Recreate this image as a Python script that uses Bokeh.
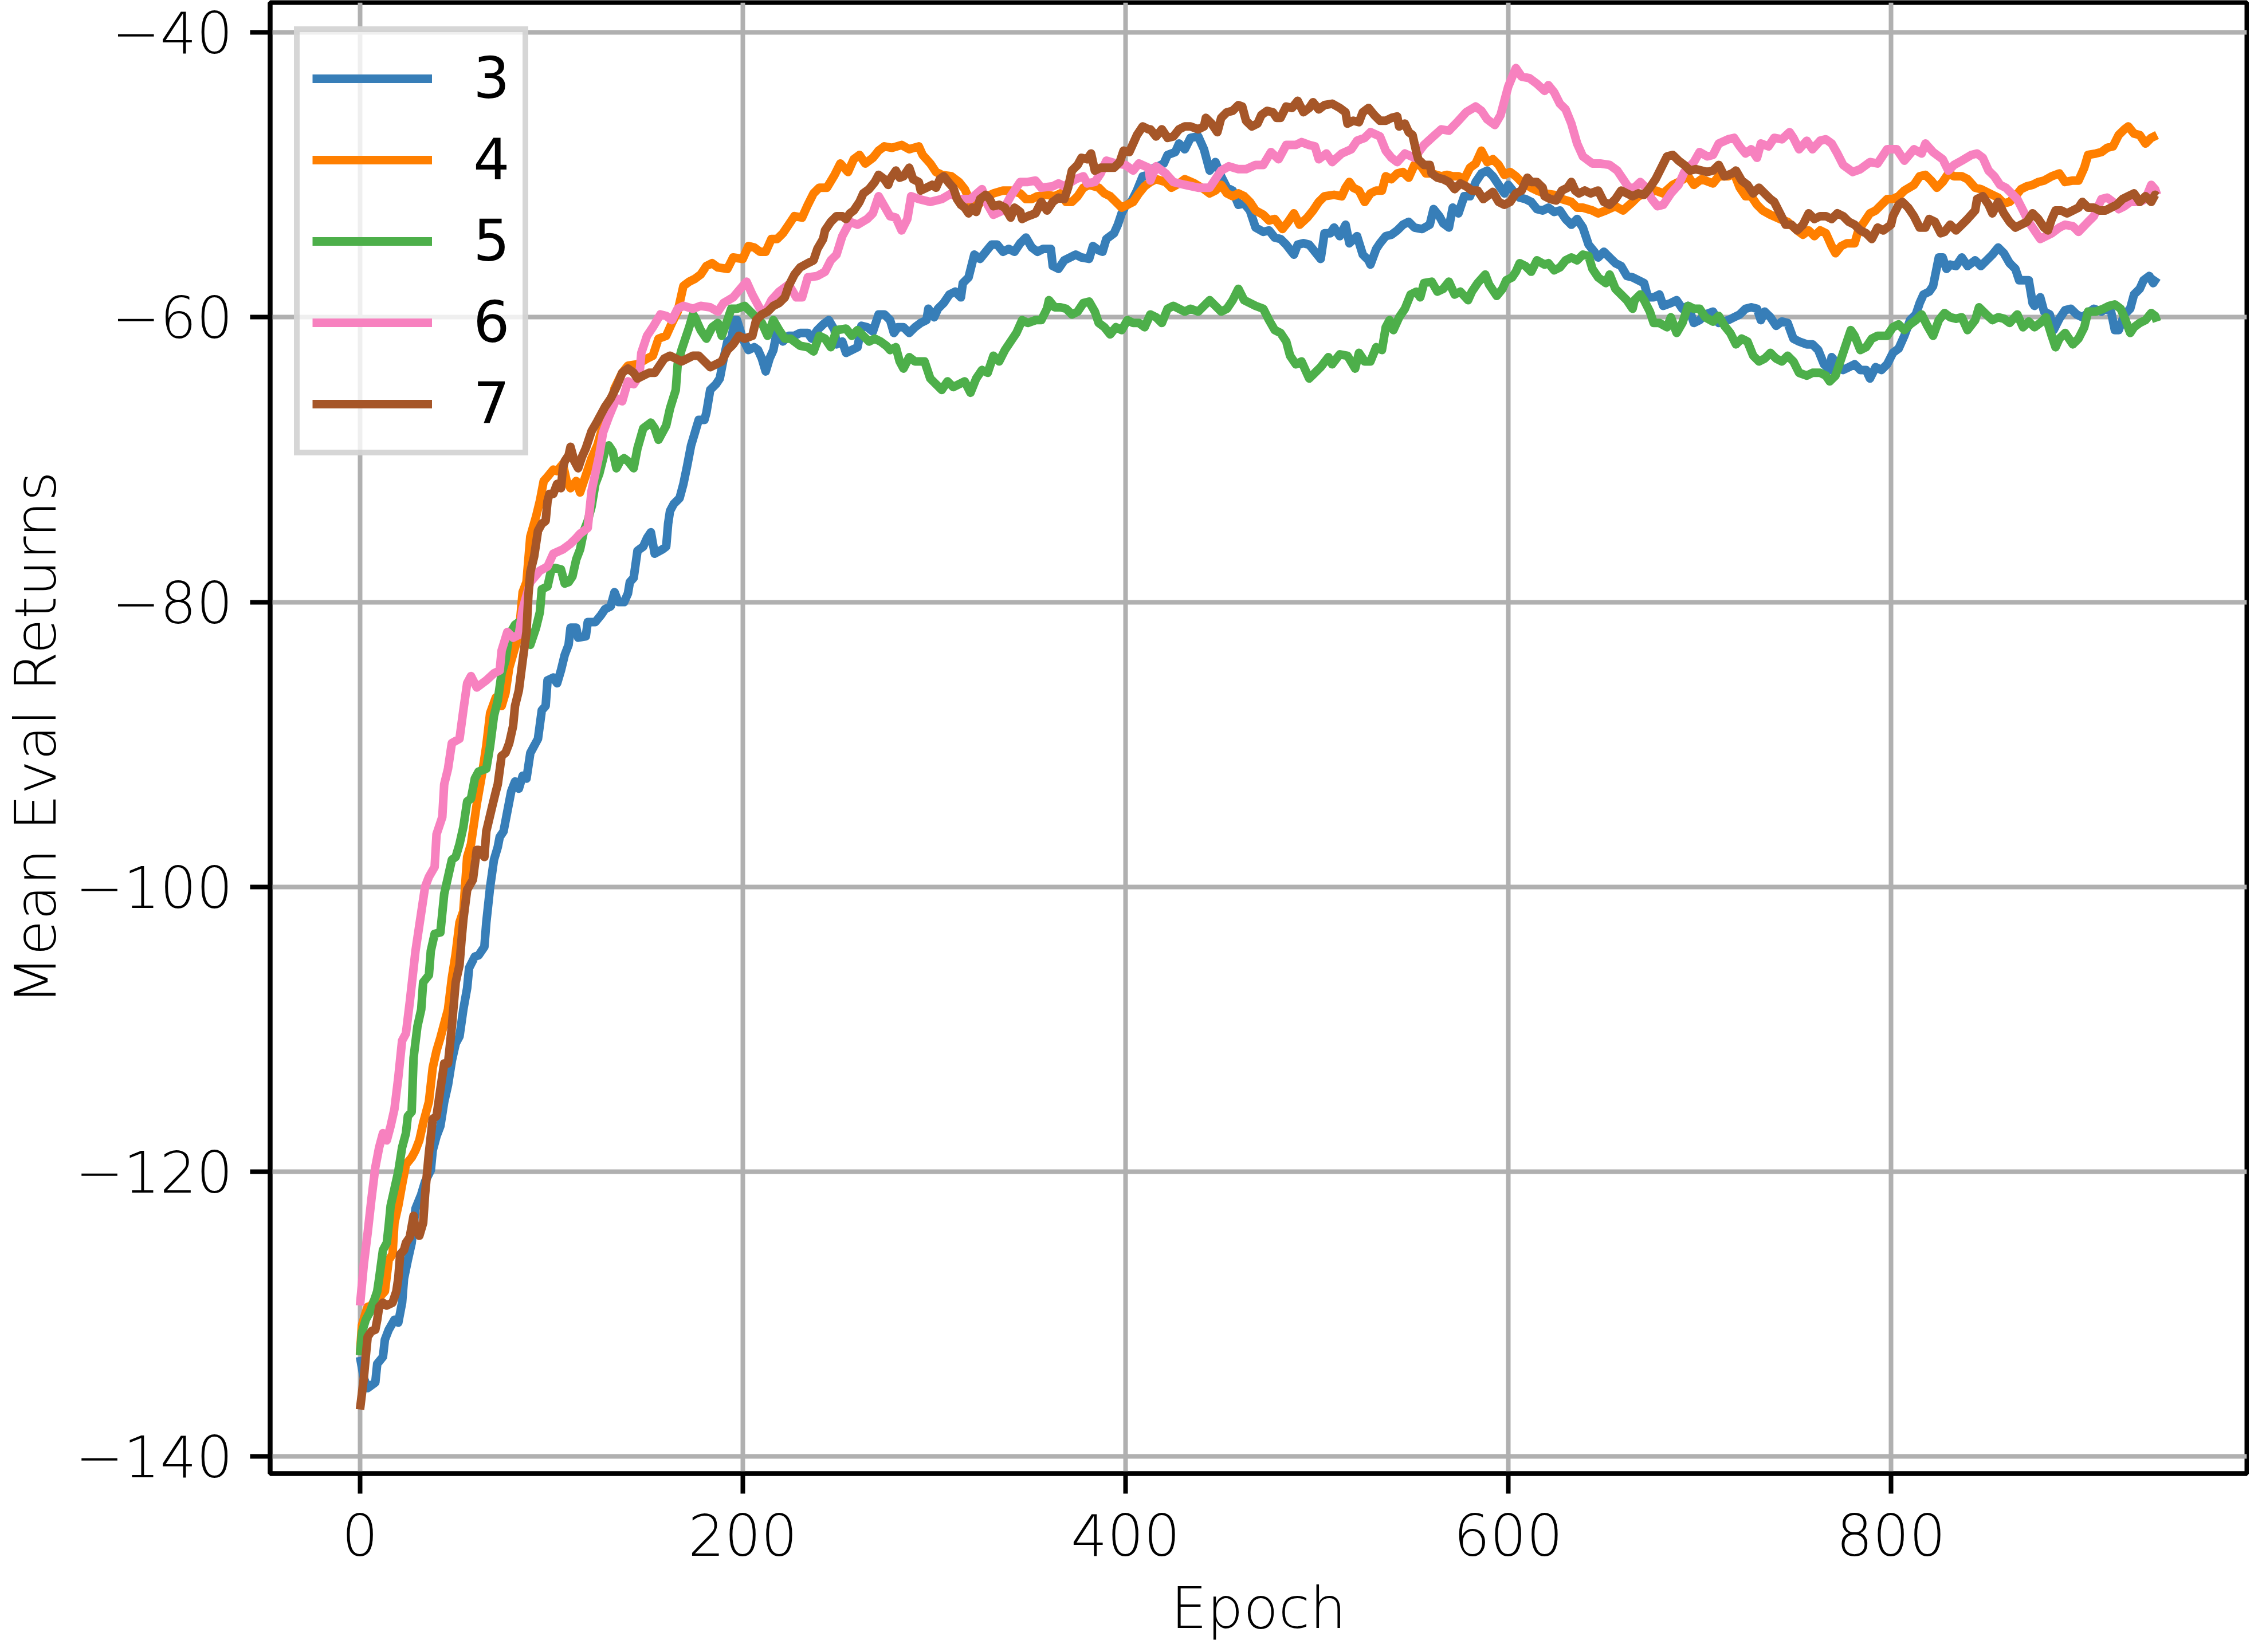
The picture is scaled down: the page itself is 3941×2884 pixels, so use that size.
from bokeh.plotting import figure
from bokeh.models import Range1d, FixedTicker
from bokeh.embed import file_html
from bokeh.resources import INLINE

# ---------------- data ----------------
series_names = ["3", "4", "5", "6", "7"]
series_colors = ["#377eb8", "#ff7f00", "#4daf4a", "#f781bf", "#a65628"]

x_ticks = [0, 200, 400, 600, 800]
y_ticks = [-140, -120, -100, -80, -60, -40]
y_tick_labels = ["\u2212140", "\u2212120", "\u2212100", "\u221280", "\u221260", "\u221240"]

epochs_3 = [0, 2, 4, 8, 9, 12, 13, 15, 18, 20, 22, 23, 25, 27, 29, 32, 34, 37, 38, 40, 42, 44, 46, 48, 50, 52, 54, 56, 57, 60, 62, 65, 66, 68, 70, 72, 73, 75, 77, 79, 81, 83, 85, 87, 89, 91, 93, 95, 97, 98, 101, 103, 105, 107, 109, 110, 113, 114, 118, 119, 123, 126, 128, 131, 133, 135, 138, 140, 141, 143, 145, 148, 150, 152, 154, 158, 160, 161, 162, 164, 167, 169, 171, 173, 175, 177, 180, 181, 183, 186, 188, 190, 192, 194, 196, 197, 200, 203, 206, 208, 210, 212, 214, 216, 218, 221, 224, 227, 230, 234, 236, 239, 242, 245, 248, 249, 252, 254, 257, 260, 262, 265, 268, 271, 274, 277, 279, 281, 284, 287, 290, 293, 296, 297, 300, 302, 305, 308, 311, 314, 315, 318, 321, 324, 327, 330, 333, 336, 339, 342, 345, 348, 351, 354, 357, 361, 362, 365, 368, 371, 374, 377, 381, 383, 386, 388, 390, 394, 396, 398, 400, 403, 406, 409, 412, 415, 417, 420, 422, 426, 428, 431, 434, 438, 441, 444, 447, 450, 453, 456, 459, 462, 465, 468, 472, 475, 478, 481, 484, 488, 490, 493, 496, 499, 502, 504, 507, 509, 512, 515, 517, 521, 524, 527, 528, 531, 533, 536, 539, 542, 545, 548, 551, 555, 559, 561, 564, 566, 569, 571, 574, 577, 580, 583, 586, 589, 592, 595, 598, 600, 603, 606, 609, 612, 615, 618, 621, 624, 627, 630, 633, 636, 639, 642, 645, 647, 650, 653, 656, 659, 662, 665, 668, 671, 673, 676, 679, 681, 685, 688, 691, 694, 697, 700, 703, 707, 710, 715, 718, 721, 724, 727, 730, 732, 734, 737, 740, 743, 746, 749, 752, 756, 759, 762, 765, 768, 769, 772, 775, 778, 781, 784, 787, 789, 792, 795, 798, 801, 804, 807, 810, 813, 815, 817, 820, 822, 825, 827, 829, 831, 834, 837, 840, 844, 847, 850, 853, 856, 859, 862, 865, 867, 870, 872, 874, 875, 878, 880, 883, 885, 888, 891, 894, 897, 900, 903, 906, 910, 912, 915, 917, 919, 922, 925, 927, 930, 932, 935, 937, 939]
returns_3 = [-133.0, -134.5, -135.2, -134.8, -133.5, -133.0, -131.8, -131.1, -130.4, -130.6, -129.2, -127.5, -126.2, -125.0, -122.6, -121.6, -120.7, -119.9, -118.5, -117.5, -116.8, -115.1, -113.9, -112.2, -111.0, -110.5, -108.6, -107.1, -105.7, -104.9, -104.8, -104.2, -102.5, -100.0, -98.1, -97.2, -96.5, -96.1, -94.7, -93.3, -92.6, -93.1, -92.2, -92.4, -90.6, -90.1, -89.6, -87.6, -87.3, -85.5, -85.3, -85.7, -84.8, -83.7, -83.0, -81.8, -81.8, -82.5, -82.4, -81.4, -81.4, -80.9, -80.5, -80.3, -79.3, -80.0, -80.0, -79.4, -78.6, -78.3, -76.4, -76.1, -75.5, -75.1, -76.6, -76.3, -76.1, -74.5, -73.6, -73.1, -72.7, -71.7, -70.4, -69.0, -68.1, -67.2, -67.2, -66.7, -65.1, -64.7, -64.3, -62.9, -61.7, -61.5, -60.2, -60.2, -61.5, -62.3, -62.1, -62.3, -62.9, -63.8, -62.9, -62.3, -60.9, -61.7, -61.3, -61.3, -61.1, -61.1, -61.5, -60.9, -60.5, -60.2, -60.9, -61.9, -61.7, -62.5, -62.3, -62.1, -60.6, -60.7, -61.0, -59.8, -59.8, -60.2, -61.1, -60.7, -60.7, -61.1, -60.7, -60.4, -60.2, -59.4, -60.0, -59.4, -59.0, -58.4, -58.2, -58.6, -57.6, -57.2, -55.6, -55.9, -55.4, -54.9, -54.9, -55.4, -55.2, -55.4, -54.8, -54.4, -55.1, -55.4, -55.2, -55.2, -56.4, -56.6, -56.0, -55.8, -55.6, -55.8, -55.9, -55.0, -55.3, -55.4, -54.5, -54.1, -53.5, -52.7, -52.2, -51.9, -51.1, -50.1, -50.0, -49.5, -49.4, -49.2, -48.6, -48.4, -47.8, -48.2, -47.4, -47.3, -48.2, -49.7, -49.1, -50.1, -50.9, -51.1, -52.1, -52.0, -52.5, -53.7, -54.0, -53.9, -54.4, -54.5, -54.9, -55.6, -54.9, -54.8, -54.9, -55.4, -55.9, -54.1, -54.1, -53.7, -54.3, -53.5, -54.8, -54.3, -55.6, -56.0, -56.3, -55.2, -54.8, -54.3, -54.2, -53.9, -53.5, -53.3, -53.7, -53.8, -53.5, -52.4, -52.9, -53.4, -53.7, -52.3, -52.7, -51.5, -51.5, -50.5, -49.9, -49.7, -50.1, -50.7, -51.3, -50.7, -51.2, -51.6, -51.7, -51.9, -52.4, -52.5, -52.3, -52.6, -52.5, -53.1, -53.5, -53.1, -53.7, -54.9, -55.4, -55.8, -55.4, -55.8, -56.2, -56.4, -57.1, -57.2, -57.4, -57.6, -58.6, -58.6, -58.4, -59.2, -59.0, -58.8, -59.4, -59.2, -60.4, -60.2, -59.8, -59.6, -60.4, -60.2, -60.0, -59.8, -59.4, -59.3, -59.4, -60.2, -59.6, -60.0, -60.6, -60.3, -60.4, -61.5, -61.7, -61.9, -61.9, -62.3, -63.3, -63.7, -62.8, -63.3, -63.7, -63.5, -63.3, -63.7, -63.7, -64.3, -63.5, -63.7, -63.3, -62.5, -62.2, -61.3, -60.2, -59.8, -59.0, -58.4, -58.2, -57.8, -55.8, -55.8, -56.6, -56.3, -56.4, -55.8, -56.4, -56.0, -56.4, -56.0, -55.6, -55.1, -55.5, -56.2, -56.6, -57.4, -57.4, -57.4, -59.0, -59.2, -58.6, -59.6, -59.8, -60.9, -60.1, -59.5, -59.4, -59.8, -60.0, -59.7, -59.4, -59.6, -59.4, -59.6, -60.9, -60.9, -59.8, -59.4, -58.4, -58.0, -57.4, -57.1, -57.6, -57.2]

epochs_4 = [0, 1, 3, 4, 6, 8, 11, 13, 15, 17, 18, 20, 22, 24, 27, 29, 31, 33, 36, 38, 40, 42, 46, 48, 50, 52, 54, 56, 58, 61, 64, 66, 68, 71, 74, 76, 78, 81, 83, 85, 87, 89, 92, 94, 96, 98, 101, 103, 106, 108, 110, 113, 115, 118, 121, 124, 127, 130, 133, 137, 140, 145, 150, 153, 156, 160, 163, 166, 169, 172, 175, 178, 181, 184, 187, 192, 195, 200, 203, 206, 209, 212, 215, 218, 221, 224, 227, 231, 234, 237, 240, 244, 248, 251, 255, 258, 261, 264, 268, 271, 274, 278, 283, 287, 292, 294, 298, 301, 304, 309, 313, 316, 319, 322, 325, 328, 331, 336, 340, 345, 348, 351, 354, 359, 363, 366, 369, 372, 375, 378, 381, 386, 389, 392, 395, 398, 401, 404, 407, 410, 413, 416, 421, 424, 428, 431, 436, 441, 444, 447, 450, 453, 456, 459, 462, 465, 468, 472, 475, 478, 482, 485, 488, 491, 495, 498, 501, 504, 509, 513, 515, 517, 519, 522, 525, 528, 531, 534, 536, 539, 542, 545, 548, 551, 554, 557, 560, 565, 568, 571, 574, 577, 580, 583, 586, 589, 592, 595, 598, 601, 604, 607, 612, 615, 619, 624, 628, 633, 636, 639, 644, 647, 651, 656, 660, 665, 668, 672, 677, 681, 686, 689, 694, 697, 701, 707, 710, 715, 718, 721, 724, 727, 730, 733, 737, 742, 746, 751, 754, 757, 760, 763, 766, 769, 771, 774, 777, 781, 783, 786, 789, 792, 795, 798, 801, 804, 807, 812, 815, 818, 821, 824, 827, 830, 833, 837, 840, 844, 847, 850, 853, 856, 859, 862, 865, 868, 871, 874, 877, 880, 884, 888, 891, 895, 898, 901, 903, 907, 910, 913, 916, 919, 922, 924, 927, 930, 933, 936, 939]
returns_4 = [-132.8, -130.8, -129.9, -129.5, -129.4, -128.9, -128.7, -128.4, -126.2, -125.8, -123.6, -122.4, -120.9, -119.5, -119.0, -118.5, -117.8, -116.6, -115.1, -112.7, -111.5, -110.6, -108.6, -106.4, -104.7, -102.5, -101.7, -97.9, -97.0, -94.2, -91.9, -90.1, -87.8, -86.7, -87.3, -86.4, -84.6, -83.2, -82.3, -79.3, -78.6, -75.4, -74.0, -72.9, -71.5, -71.2, -70.7, -70.8, -70.3, -71.5, -72.0, -71.5, -72.3, -71.1, -69.9, -69.0, -67.6, -66.7, -65.0, -63.9, -63.4, -63.3, -62.9, -62.7, -61.5, -61.3, -60.4, -59.6, -57.8, -57.5, -57.3, -57.0, -56.4, -56.2, -56.5, -56.6, -55.8, -55.9, -55.0, -55.1, -55.4, -55.4, -54.5, -54.5, -54.1, -53.5, -52.9, -53.0, -52.1, -51.3, -50.9, -50.9, -50.0, -49.2, -49.8, -48.9, -48.6, -49.2, -48.8, -48.3, -48.0, -48.1, -47.9, -48.2, -48.0, -48.6, -49.2, -49.8, -50.0, -50.1, -50.5, -51.0, -51.9, -52.3, -51.8, -51.5, -51.3, -51.1, -51.1, -51.3, -51.7, -51.7, -51.5, -51.4, -51.5, -51.3, -51.9, -51.9, -51.5, -50.9, -50.7, -50.9, -51.3, -51.5, -51.9, -52.3, -52.1, -51.9, -51.3, -50.8, -50.5, -50.3, -50.5, -50.9, -50.6, -50.3, -50.6, -51.0, -51.3, -51.1, -50.7, -51.3, -51.5, -51.3, -51.5, -51.9, -52.5, -52.8, -53.2, -53.1, -53.8, -53.3, -52.7, -53.5, -53.0, -52.5, -51.9, -51.5, -51.4, -51.5, -50.9, -50.5, -50.9, -51.1, -51.9, -51.3, -51.1, -51.1, -50.1, -50.3, -49.9, -49.8, -50.2, -49.3, -49.3, -49.9, -49.9, -50.1, -50.0, -50.1, -50.1, -50.3, -49.5, -49.2, -48.3, -49.1, -48.9, -49.3, -50.0, -49.8, -50.1, -50.5, -50.9, -51.1, -51.3, -51.4, -51.7, -51.9, -52.3, -52.3, -52.5, -52.7, -52.5, -52.2, -52.5, -51.9, -51.5, -51.3, -51.1, -51.3, -50.7, -50.5, -50.1, -50.7, -50.3, -50.6, -50.1, -50.1, -49.9, -50.9, -51.5, -51.5, -52.1, -52.5, -52.8, -53.1, -53.3, -53.9, -54.2, -53.9, -54.3, -53.9, -54.1, -55.0, -55.5, -55.0, -54.8, -54.8, -53.9, -53.3, -52.7, -52.5, -52.1, -51.7, -51.7, -51.5, -51.1, -50.7, -50.1, -50.0, -50.4, -50.9, -50.5, -49.9, -50.1, -50.1, -50.3, -50.9, -51.0, -51.2, -51.4, -51.6, -52.0, -51.9, -51.5, -51.0, -50.8, -50.7, -50.5, -50.4, -50.1, -49.9, -50.5, -50.4, -50.4, -49.5, -48.6, -48.5, -48.4, -48.1, -48.0, -47.2, -46.8, -46.6, -47.1, -47.2, -47.8, -47.4, -47.2]

epochs_5 = [0, 1, 3, 5, 7, 9, 10, 12, 14, 15, 16, 18, 20, 22, 24, 25, 27, 28, 30, 32, 33, 36, 37, 39, 42, 44, 48, 50, 52, 54, 56, 58, 60, 62, 66, 68, 70, 72, 74, 76, 78, 81, 83, 85, 86, 89, 92, 94, 95, 98, 100, 102, 105, 107, 109, 111, 113, 115, 117, 119, 121, 123, 125, 128, 130, 132, 134, 136, 138, 140, 143, 145, 148, 152, 154, 156, 160, 162, 165, 166, 168, 170, 172, 174, 175, 178, 181, 184, 187, 189, 192, 194, 197, 201, 204, 207, 210, 213, 216, 219, 222, 225, 230, 234, 237, 240, 243, 246, 249, 254, 257, 260, 263, 266, 269, 272, 275, 277, 280, 282, 284, 287, 290, 295, 298, 301, 304, 307, 310, 313, 316, 319, 322, 325, 328, 331, 334, 337, 340, 343, 346, 349, 353, 356, 359, 360, 363, 366, 369, 372, 375, 378, 381, 384, 386, 389, 392, 395, 398, 401, 404, 407, 410, 413, 416, 419, 422, 425, 428, 431, 434, 438, 441, 444, 447, 450, 453, 456, 459, 462, 465, 468, 472, 475, 478, 481, 484, 486, 489, 492, 494, 496, 499, 502, 506, 508, 512, 516, 520, 522, 525, 528, 531, 534, 536, 538, 540, 543, 546, 549, 552, 554, 556, 560, 563, 566, 569, 572, 575, 579, 581, 584, 588, 590, 594, 597, 599, 602, 604, 606, 609, 612, 615, 619, 621, 624, 627, 630, 633, 636, 639, 642, 644, 647, 649, 651, 653, 656, 659, 662, 665, 666, 669, 671, 674, 676, 679, 683, 685, 688, 691, 694, 697, 700, 703, 707, 710, 713, 716, 719, 722, 725, 728, 731, 734, 737, 740, 743, 746, 749, 752, 756, 759, 763, 766, 768, 771, 774, 777, 779, 781, 784, 787, 790, 793, 798, 801, 804, 807, 810, 813, 816, 819, 822, 825, 828, 831, 834, 837, 840, 844, 846, 849, 853, 856, 859, 862, 866, 869, 872, 875, 878, 881, 884, 886, 888, 891, 895, 898, 901, 903, 907, 911, 914, 917, 920, 922, 925, 927, 930, 933, 936, 938, 939]
returns_5 = [-132.9, -131.3, -130.4, -129.9, -129.2, -128.4, -127.5, -125.5, -125.0, -123.8, -122.4, -121.2, -120.0, -118.3, -117.3, -116.1, -115.8, -112.0, -109.8, -108.6, -106.7, -106.2, -104.5, -103.3, -103.2, -100.5, -98.1, -97.9, -97.0, -95.8, -94.0, -93.8, -92.4, -91.9, -91.7, -90.1, -88.0, -86.9, -85.0, -84.1, -82.3, -81.6, -81.4, -81.6, -81.4, -83.0, -81.8, -80.7, -79.1, -78.9, -77.7, -77.6, -77.7, -78.7, -78.6, -78.2, -77.0, -76.3, -75.0, -74.3, -73.3, -71.7, -71.0, -69.4, -69.0, -69.4, -70.6, -70.1, -69.9, -70.1, -70.6, -69.2, -67.8, -67.4, -67.8, -68.6, -67.6, -66.4, -65.1, -63.3, -62.3, -61.5, -60.7, -59.8, -60.0, -60.9, -61.5, -60.7, -60.4, -61.3, -60.2, -59.4, -59.4, -59.2, -59.6, -60.0, -60.4, -61.3, -60.2, -60.9, -61.5, -61.5, -62.0, -62.1, -62.4, -61.3, -61.5, -62.1, -60.9, -60.8, -61.3, -60.9, -61.3, -61.7, -61.5, -61.7, -62.0, -62.3, -62.1, -63.1, -63.6, -62.8, -63.1, -63.1, -64.3, -64.7, -65.1, -64.5, -64.9, -64.7, -64.5, -65.3, -64.3, -63.7, -63.9, -62.7, -63.1, -62.3, -61.7, -61.1, -60.2, -60.4, -60.2, -60.2, -59.4, -58.8, -59.3, -59.3, -59.4, -59.8, -59.6, -59.0, -58.9, -59.6, -60.4, -60.7, -61.2, -60.7, -60.9, -60.2, -60.4, -60.4, -60.7, -59.8, -60.0, -60.4, -59.4, -59.2, -59.4, -59.6, -59.4, -59.6, -59.2, -58.8, -59.2, -59.6, -59.4, -58.8, -58.0, -58.8, -59.0, -59.2, -59.4, -60.2, -60.9, -61.1, -61.7, -62.7, -63.3, -63.1, -63.7, -64.3, -63.9, -63.5, -62.8, -63.3, -62.6, -62.7, -63.6, -62.5, -63.1, -63.1, -62.1, -62.3, -60.7, -60.2, -60.9, -60.0, -59.4, -58.4, -58.2, -58.6, -57.6, -57.5, -58.2, -58.0, -57.5, -58.4, -58.2, -58.8, -58.2, -57.6, -57.0, -57.7, -58.5, -58.0, -57.4, -57.2, -56.8, -56.2, -56.4, -56.8, -56.0, -56.3, -56.2, -56.7, -56.5, -56.0, -55.8, -56.0, -55.6, -55.7, -56.6, -57.2, -57.4, -57.6, -57.0, -58.0, -58.4, -58.8, -59.4, -58.8, -58.4, -58.8, -59.6, -60.4, -60.4, -60.7, -60.0, -61.1, -60.4, -59.2, -59.4, -59.4, -60.0, -60.3, -59.9, -60.6, -61.1, -61.9, -61.5, -61.7, -62.7, -63.1, -62.9, -62.5, -62.9, -63.1, -62.7, -63.1, -63.9, -64.1, -63.9, -63.9, -64.1, -64.5, -64.1, -62.9, -61.7, -60.9, -61.3, -62.3, -62.1, -61.5, -61.3, -61.3, -60.7, -60.5, -60.9, -60.5, -60.2, -59.8, -60.6, -61.3, -60.2, -59.7, -60.0, -60.1, -60.0, -60.9, -60.2, -59.3, -59.7, -60.2, -60.0, -60.1, -60.4, -59.8, -60.7, -60.3, -60.7, -60.4, -60.0, -61.3, -62.1, -61.5, -61.1, -61.9, -61.5, -60.7, -59.6, -59.6, -59.4, -59.2, -59.1, -59.4, -60.0, -61.1, -60.7, -60.4, -60.2, -59.7, -59.9, -60.3]

epochs_6 = [0, 2, 4, 6, 8, 10, 12, 14, 16, 18, 20, 22, 24, 26, 29, 32, 34, 36, 39, 40, 43, 44, 46, 48, 52, 54, 56, 58, 61, 66, 70, 73, 74, 77, 80, 83, 85, 89, 94, 98, 101, 106, 110, 113, 115, 119, 121, 125, 127, 130, 134, 137, 140, 143, 146, 147, 150, 153, 157, 160, 163, 166, 169, 174, 178, 183, 187, 190, 195, 200, 202, 205, 209, 212, 215, 219, 224, 228, 231, 234, 239, 243, 246, 249, 252, 256, 260, 265, 268, 271, 274, 277, 280, 283, 286, 288, 292, 298, 304, 309, 313, 319, 325, 328, 331, 336, 340, 345, 349, 353, 356, 362, 365, 368, 374, 378, 380, 384, 387, 390, 395, 400, 404, 407, 412, 413, 416, 421, 425, 431, 438, 444, 447, 450, 454, 459, 463, 468, 472, 476, 480, 484, 489, 492, 496, 499, 501, 505, 508, 513, 518, 521, 525, 528, 533, 536, 539, 542, 546, 551, 556, 560, 565, 569, 574, 578, 583, 586, 589, 593, 596, 598, 600, 604, 607, 611, 615, 619, 621, 624, 627, 630, 633, 636, 639, 644, 648, 653, 657, 660, 663, 666, 669, 672, 675, 678, 681, 685, 689, 692, 697, 700, 704, 707, 710, 715, 718, 721, 724, 727, 730, 732, 736, 739, 743, 747, 749, 752, 756, 759, 763, 766, 769, 772, 775, 780, 784, 789, 793, 798, 803, 807, 812, 816, 818, 822, 827, 830, 833, 837, 842, 845, 848, 851, 854, 857, 860, 863, 866, 869, 872, 875, 878, 881, 884, 888, 891, 895, 898, 903, 906, 910, 913, 916, 919, 922, 925, 930, 933, 936, 938, 939]
returns_6 = [-129.4, -126.5, -124.3, -121.9, -119.7, -118.3, -117.3, -117.8, -116.8, -115.6, -113.4, -110.8, -110.3, -108.1, -104.5, -101.8, -100.0, -99.3, -98.6, -96.3, -95.1, -92.8, -91.7, -89.9, -89.6, -87.6, -85.7, -85.2, -86.0, -85.5, -85.0, -84.8, -83.4, -82.1, -82.5, -82.3, -80.5, -78.6, -77.8, -77.5, -76.6, -76.3, -75.9, -75.5, -75.2, -74.8, -72.2, -69.7, -68.1, -67.0, -65.7, -65.9, -64.5, -64.7, -64.1, -62.5, -61.3, -60.7, -59.8, -59.9, -60.2, -59.4, -59.2, -59.4, -59.2, -59.3, -59.6, -59.0, -58.6, -57.8, -57.5, -58.4, -59.4, -59.6, -58.8, -58.2, -57.7, -58.6, -58.6, -57.2, -57.1, -56.8, -56.0, -55.6, -54.3, -53.3, -53.5, -53.1, -52.7, -51.5, -52.2, -52.9, -53.0, -53.9, -53.1, -51.5, -51.7, -51.9, -51.7, -51.3, -51.7, -51.7, -51.0, -52.1, -52.8, -52.5, -51.5, -50.5, -50.5, -50.4, -50.9, -50.8, -50.6, -50.8, -50.3, -50.1, -50.6, -50.5, -49.9, -49.0, -49.2, -49.3, -49.7, -49.2, -49.5, -50.4, -49.4, -49.9, -50.5, -50.7, -50.9, -50.9, -50.3, -49.7, -49.4, -49.6, -49.6, -49.3, -49.3, -48.4, -48.9, -47.9, -47.9, -47.7, -47.9, -48.0, -48.9, -48.5, -49.1, -48.5, -48.2, -47.6, -47.4, -47.0, -47.3, -48.3, -48.8, -49.1, -48.5, -48.8, -47.9, -47.4, -46.8, -46.9, -46.2, -45.6, -45.2, -45.5, -46.1, -46.5, -45.8, -44.8, -43.8, -42.5, -43.1, -43.2, -43.6, -44.1, -43.7, -44.2, -45.0, -45.4, -46.4, -47.8, -48.7, -49.2, -49.2, -49.3, -49.7, -50.3, -50.9, -50.9, -50.5, -50.9, -51.7, -52.2, -52.1, -51.3, -50.7, -49.8, -49.1, -48.4, -48.7, -48.6, -47.8, -47.5, -47.4, -48.0, -48.5, -48.2, -48.8, -47.8, -48.0, -47.4, -47.5, -47.0, -47.4, -48.2, -47.6, -48.2, -47.6, -47.5, -47.8, -48.5, -49.3, -49.8, -49.6, -49.1, -49.2, -48.2, -48.2, -49.0, -48.2, -48.5, -47.8, -48.4, -48.9, -49.7, -49.3, -49.0, -48.6, -48.5, -48.8, -49.7, -50.1, -50.7, -50.9, -51.3, -51.7, -52.5, -53.3, -53.9, -54.5, -54.3, -54.1, -53.7, -53.5, -53.6, -54.0, -53.3, -52.9, -51.7, -51.6, -51.9, -52.4, -52.2, -51.9, -51.9, -51.7, -50.7, -51.0, -51.4]

epochs_7 = [0, 2, 3, 4, 6, 8, 9, 10, 12, 14, 17, 19, 20, 21, 23, 24, 26, 28, 29, 31, 33, 34, 36, 38, 40, 42, 44, 46, 48, 50, 52, 53, 54, 56, 59, 61, 62, 65, 66, 69, 71, 72, 74, 76, 78, 80, 81, 83, 85, 87, 88, 89, 91, 92, 93, 95, 97, 98, 99, 101, 103, 105, 106, 107, 109, 110, 112, 114, 116, 118, 121, 124, 128, 131, 134, 137, 140, 143, 145, 148, 151, 154, 156, 159, 162, 165, 168, 171, 174, 177, 180, 183, 186, 189, 192, 195, 198, 201, 205, 207, 210, 213, 216, 219, 222, 224, 227, 230, 234, 237, 239, 242, 243, 246, 249, 252, 254, 256, 258, 261, 263, 266, 269, 271, 274, 276, 277, 280, 282, 284, 287, 289, 292, 293, 296, 299, 301, 303, 305, 308, 310, 312, 314, 316, 318, 320, 322, 324, 327, 329, 331, 334, 337, 340, 342, 345, 346, 349, 353, 356, 359, 362, 365, 368, 370, 372, 375, 377, 380, 382, 384, 387, 390, 394, 397, 399, 402, 404, 406, 409, 412, 413, 416, 419, 422, 425, 428, 431, 434, 438, 441, 442, 445, 448, 450, 453, 456, 459, 461, 463, 466, 469, 471, 474, 477, 479, 481, 484, 487, 490, 493, 496, 498, 501, 504, 508, 512, 515, 516, 519, 522, 524, 527, 530, 533, 536, 539, 542, 543, 546, 548, 550, 552, 553, 556, 559, 560, 563, 566, 569, 572, 575, 578, 581, 584, 587, 589, 592, 595, 598, 601, 604, 607, 610, 612, 615, 618, 619, 622, 625, 628, 631, 633, 635, 637, 640, 643, 647, 650, 653, 656, 659, 662, 665, 668, 671, 674, 677, 680, 683, 686, 689, 692, 695, 698, 701, 704, 707, 710, 713, 717, 719, 722, 725, 728, 731, 734, 737, 739, 742, 745, 748, 751, 754, 757, 760, 763, 766, 769, 772, 775, 778, 781, 784, 787, 790, 793, 796, 800, 801, 804, 806, 809, 812, 815, 818, 820, 823, 826, 828, 831, 834, 837, 840, 844, 845, 848, 851, 853, 856, 859, 862, 865, 868, 871, 874, 877, 880, 882, 884, 886, 889, 892, 895, 898, 900, 903, 906, 909, 912, 915, 918, 921, 924, 927, 930, 933, 936, 938, 939]
returns_7 = [-136.7, -134.5, -133.0, -131.6, -131.2, -131.1, -130.4, -129.5, -129.2, -129.4, -129.2, -128.4, -127.5, -125.8, -125.5, -125.0, -124.6, -123.1, -124.1, -124.5, -123.6, -121.6, -118.7, -116.3, -116.1, -114.2, -112.4, -112.4, -109.8, -106.7, -105.5, -103.8, -102.3, -100.2, -99.5, -97.4, -97.4, -97.9, -96.1, -94.4, -93.3, -92.8, -90.8, -90.6, -89.9, -88.7, -87.3, -86.2, -84.1, -82.1, -79.5, -77.9, -76.8, -75.9, -75.0, -74.5, -74.3, -72.9, -72.4, -72.4, -71.7, -72.0, -70.6, -70.1, -69.7, -69.1, -70.1, -70.6, -69.8, -69.2, -68.0, -67.3, -66.3, -65.7, -64.9, -63.9, -63.6, -63.9, -64.3, -64.1, -63.9, -63.9, -63.5, -62.9, -62.7, -62.9, -63.1, -62.9, -62.7, -62.7, -63.1, -63.5, -63.3, -63.1, -62.3, -61.9, -61.3, -61.5, -61.3, -60.2, -59.8, -59.6, -59.2, -59.0, -58.6, -57.8, -57.0, -56.5, -56.2, -56.0, -55.2, -54.5, -53.9, -53.3, -52.9, -52.9, -53.1, -52.7, -52.5, -51.9, -51.3, -51.0, -50.5, -50.0, -50.3, -50.7, -50.3, -49.7, -50.2, -50.1, -49.5, -50.3, -50.5, -51.1, -50.9, -50.7, -50.9, -50.3, -50.1, -50.6, -50.9, -51.7, -52.1, -52.3, -52.7, -52.3, -52.6, -51.7, -51.4, -51.7, -52.2, -52.1, -52.3, -53.0, -52.3, -52.6, -53.1, -52.9, -52.7, -51.9, -52.5, -51.9, -51.6, -51.7, -50.9, -49.7, -49.3, -48.8, -48.9, -48.5, -49.7, -49.5, -49.5, -49.5, -49.1, -48.3, -48.4, -47.8, -47.2, -46.6, -46.8, -46.8, -47.3, -46.8, -47.4, -47.3, -46.8, -46.6, -46.6, -46.8, -46.6, -46.0, -46.4, -47.0, -46.0, -45.6, -45.5, -45.1, -45.2, -46.2, -46.6, -46.4, -45.8, -45.5, -45.6, -46.0, -46.0, -45.2, -45.3, -44.8, -45.6, -45.3, -44.9, -45.4, -45.1, -45.0, -45.3, -45.6, -46.4, -46.2, -46.3, -45.6, -45.3, -45.8, -46.2, -46.2, -46.0, -45.9, -46.6, -46.4, -47.0, -47.2, -48.4, -48.9, -49.3, -49.3, -49.9, -50.2, -50.3, -50.5, -51.0, -50.6, -50.8, -51.1, -51.1, -51.7, -51.5, -51.2, -51.9, -52.1, -51.9, -51.3, -51.1, -50.2, -50.5, -50.5, -50.9, -51.5, -51.7, -51.8, -51.1, -50.9, -50.5, -51.1, -51.3, -51.1, -51.3, -51.1, -51.9, -52.1, -51.7, -51.1, -51.3, -51.5, -51.3, -51.4, -50.9, -50.3, -49.5, -48.7, -48.6, -49.0, -49.3, -49.7, -49.6, -49.7, -49.8, -49.7, -49.3, -50.1, -49.9, -49.7, -50.4, -50.7, -51.3, -50.9, -51.3, -51.7, -51.9, -52.7, -53.5, -53.5, -53.9, -53.5, -52.7, -53.1, -52.9, -52.9, -53.1, -52.7, -52.9, -53.3, -53.5, -53.9, -54.1, -54.5, -53.7, -53.9, -53.5, -52.9, -52.1, -51.9, -52.3, -52.9, -53.7, -53.7, -53.1, -53.3, -54.1, -54.0, -53.5, -53.9, -53.5, -53.1, -52.5, -51.7, -51.5, -52.1, -52.7, -51.9, -52.7, -53.3, -53.7, -53.5, -53.3, -52.7, -53.1, -53.7, -53.9, -53.1, -52.5, -52.5, -52.7, -52.5, -52.3, -51.9, -52.3, -52.3, -52.5, -52.5, -52.3, -52.1, -51.7, -51.5, -51.3, -51.9, -51.5, -51.9, -51.4, -51.5]

all_epochs = [epochs_3, epochs_4, epochs_5, epochs_6, epochs_7]
all_returns = [returns_3, returns_4, returns_5, returns_6, returns_7]

# ---------------- figure ----------------
FONT = "DejaVu Sans"

p = figure(width=3925, height=2868, output_backend="svg", toolbar_location=None,
           x_range=Range1d(-46.95, 985.95), y_range=Range1d(-141.2, -37.9),
           min_border_left=460, min_border_right=4, min_border_top=4,
           min_border_bottom=285)

p.background_fill_color = "white"
p.border_fill_color = "white"
p.outline_line_color = "black"
p.outline_line_width = 8

p.xaxis.ticker = FixedTicker(ticks=x_ticks)
p.yaxis.ticker = FixedTicker(ticks=y_ticks)
p.yaxis.major_label_overrides = {float(t): s for t, s in zip(y_ticks, y_tick_labels)}
p.xaxis.axis_label = "Epoch"
p.yaxis.axis_label = "Mean Eval Returns"

for ax in (p.xaxis[0], p.yaxis[0]):
    ax.axis_line_color = "black"
    ax.axis_line_width = 8
    ax.major_tick_out = 35
    ax.major_tick_in = 0
    ax.minor_tick_out = 0
    ax.minor_tick_in = 0
    ax.major_tick_line_width = 8
    ax.major_tick_line_color = "black"
    ax.major_label_text_font = FONT
    ax.major_label_text_font_size = "100px"
    ax.major_label_text_font_style = "normal"
    ax.major_label_text_color = "#000000"
    ax.major_label_text_alpha = 1.0
    ax.axis_label_text_font = FONT
    ax.axis_label_text_font_size = "100px"
    ax.axis_label_text_font_style = "normal"
    ax.axis_label_text_color = "#000000"
    ax.axis_label_text_alpha = 1.0

p.xaxis.major_label_standoff = 35
p.xaxis.axis_label_standoff = 30
p.yaxis.major_label_standoff = 30
p.yaxis.axis_label_standoff = 8

p.grid.grid_line_color = "#b0b0b0"
p.grid.grid_line_width = 8

for name, color, xs, ys in zip(series_names, series_colors, all_epochs, all_returns):
    p.line(xs, ys, line_color=color, line_width=15, line_join="round",
           legend_label=name)

lg = p.legend[0]
lg.location = "top_left"
lg.margin = 42
lg.padding = 22
lg.spacing = 25
lg.glyph_width = 209
lg.glyph_height = 100
lg.label_standoff = 72
lg.label_text_font = FONT
lg.label_text_font_size = "100px"
lg.label_text_color = "black"
lg.border_line_color = "#cccccc"
lg.border_line_width = 10
lg.border_line_alpha = 0.8
lg.background_fill_color = "white"
lg.background_fill_alpha = 0.8

open("out.html", "w").write(file_html(p, INLINE))
